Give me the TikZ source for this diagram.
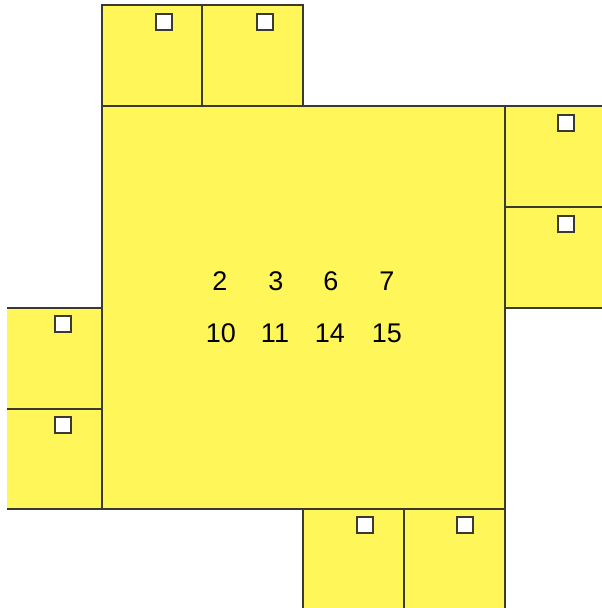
\documentclass[tikz,border=0pt]{standalone}
\usepackage{fontspec}
\setmainfont{Liberation Sans}
\definecolor{boxyellow}{HTML}{FFF65A}
\definecolor{edge}{HTML}{3A3A30}
\begin{document}
\begin{tikzpicture}[x=1pt,y=-1pt,
  cell/.style={draw=edge,fill=boxyellow,line width=1.1pt},
  tick/.style={draw=edge,fill=white,line width=1.1pt},
  num/.style={font=\fontsize{27}{31}\selectfont,text=black,inner sep=0pt,anchor=center}]
\useasboundingbox (0,0) rectangle (602,608);
\clip (7,0) rectangle (602,608);
% main square
\path[cell] (102,106) rectangle (505,509);
% top
\path[cell] (102,5) rectangle (202,106);
\path[cell] (202,5) rectangle (303,106);
\path[tick] (156,14) rectangle (172,30);
\path[tick] (257,14) rectangle (273,30);
% right
\path[cell] (505,106) rectangle (612,207);
\path[cell] (505,207) rectangle (612,308);
\path[tick] (558,115) rectangle (574,131);
\path[tick] (558,216) rectangle (574,232);
% left
\path[cell] (-5,308) rectangle (102,409);
\path[cell] (-5,409) rectangle (102,509);
\path[tick] (55,316) rectangle (71,332);
\path[tick] (55,417) rectangle (71,433);
% bottom
\path[cell] (303,509) rectangle (404,618);
\path[cell] (404,509) rectangle (505,618);
\path[tick] (357,517) rectangle (373,533);
\path[tick] (457,517) rectangle (473,533);
% numbers
\node[num] (n2) at (220,281) {2};
\node[num] (n3) at (276,281) {3};
\node[num] (n6) at (331,281) {6};
\node[num] (n7) at (387,281) {7};
\node[num] (n10) at (221,333) {10};
\node[num] (n11) at (275,333) {11};
\node[num] (n14) at (330,333) {14};
\node[num] (n15) at (387,333) {15};
\end{tikzpicture}
\end{document}
